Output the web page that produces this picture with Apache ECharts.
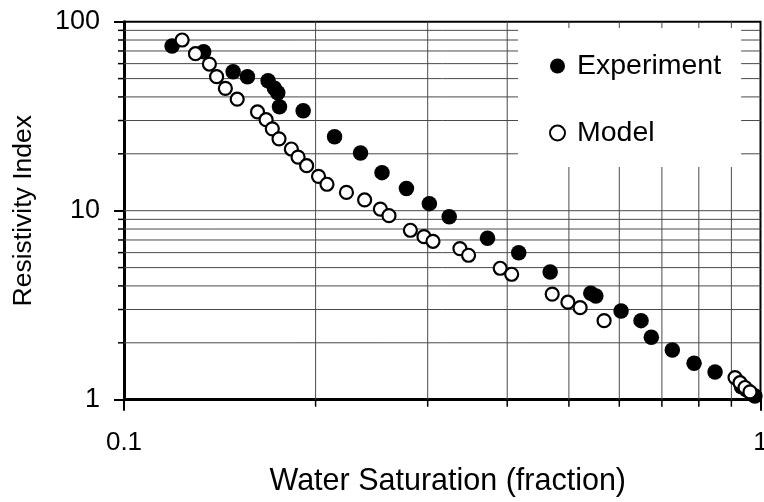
<!DOCTYPE html>
<html>
<head>
<meta charset="utf-8">
<script src="https://cdn.jsdelivr.net/npm/echarts@6/dist/echarts.min.js"></script>
<style>
  html, body { margin: 0; padding: 0; background: #fff; }
  #chart { width: 764px; height: 502px; }
</style>
</head>
<body>
<div id="chart"></div>
<script>
// Water saturation (fraction) vs resistivity index
const expSw = [0.1190, 0.1334, 0.1484, 0.1563, 0.1684, 0.1723, 0.1744, 0.1755, 0.1912, 0.2142,
               0.2353, 0.2543, 0.2778, 0.3018, 0.3243, 0.3725, 0.4170, 0.4673, 0.5412, 0.5512,
               0.6039, 0.6491, 0.6737, 0.7269, 0.7864, 0.8484, 0.9337, 0.9506, 0.9660, 0.9800];
const expRI = [74.3, 69.4, 54.4, 51.2, 48.7, 44.4, 42.1, 35.5, 33.8, 24.6,
               20.2, 15.9, 13.1, 10.9, 9.30, 7.14, 5.99, 4.74, 3.66, 3.54,
               2.95, 2.62, 2.14, 1.83, 1.56, 1.40, 1.17, 1.13, 1.08, 1.046];

const modSw = [0.1234, 0.1295, 0.1362, 0.1398, 0.1443, 0.1506, 0.1621, 0.1672, 0.1710, 0.1752,
               0.1832, 0.1877, 0.1936, 0.2021, 0.2084, 0.2236, 0.2388, 0.2528, 0.2608, 0.2818,
               0.2960, 0.3058, 0.3371, 0.3478, 0.3900, 0.4065, 0.4707, 0.4982, 0.5207, 0.5679,
               0.9120, 0.9286, 0.9456, 0.9627];
const modRI = [80.0, 67.7, 59.7, 51.2, 44.4, 38.9, 33.3, 30.3, 27.1, 24.0,
               21.2, 19.2, 17.3, 15.2, 13.8, 12.5, 11.4, 10.2, 9.41, 7.88,
               7.29, 6.89, 6.30, 5.81, 4.96, 4.61, 3.62, 3.28, 3.07, 2.62,
               1.31, 1.23, 1.16, 1.10];

// Axis ticks and grid positions
const xTickLabels = ['0.1', '1'];
const yTickLabels = ['1', '10', '100'];
const xGridValues = [0.2, 0.3, 0.4, 0.5, 0.6, 0.7, 0.8, 0.9];
const yGridValues = [2, 3, 4, 5, 6, 7, 8, 9, 10, 20, 30, 40, 50, 60, 70, 80, 90];

const X_MIN = 0.1, X_MAX = 1, Y_MIN = 1, Y_MAX = 100;
const FONT = '"Liberation Sans", Arial, sans-serif';

const zip = (a, b) => a.map((v, i) => [v, b[i]]);

const chart = echarts.init(document.getElementById('chart'), null, { renderer: 'canvas' });

// Gridlines plus small outward ticks, drawn through the axis scales
function gridRenderer(isHorizontal) {
  return function (params, api) {
    const v = isHorizontal ? api.value(1) : api.value(0);
    let a, b, t0, t1;
    if (isHorizontal) {
      a = api.coord([X_MIN, v]);
      b = api.coord([X_MAX, v]);
      t0 = [a[0] - 6, a[1]];
      t1 = a;
    } else {
      a = api.coord([v, Y_MIN]);
      b = api.coord([v, Y_MAX]);
      t0 = a;
      t1 = [a[0], a[1] + 7];
    }
    return {
      type: 'group',
      children: [
        { type: 'line', shape: { x1: a[0], y1: a[1], x2: b[0], y2: b[1] },
          style: { stroke: '#4a4a4a', lineWidth: 1 } },
        { type: 'line', shape: { x1: t0[0], y1: t0[1], x2: t1[0], y2: t1[1] },
          style: { stroke: '#000', lineWidth: 1.5 } }
      ]
    };
  };
}

chart.setOption({
  animation: false,
  backgroundColor: '#fff',
  textStyle: { fontFamily: FONT },
  grid: {
    left: 124, right: 3.5, top: 21.7, bottom: 102.3,
    outerBoundsMode: 'none', containLabel: false,
    show: true, borderColor: '#000', borderWidth: 2, backgroundColor: 'transparent'
  },
  legend: {
    data: ['Experiment', 'Model'],
    orient: 'vertical',
    left: 518, top: 28,
    padding: [23, 20, 19, 31],
    itemGap: 37,
    itemWidth: 15, itemHeight: 15,
    backgroundColor: '#fff',
    z: 10,
    textStyle: { fontSize: 28.5, color: '#000', fontFamily: FONT, lineHeight: 30, padding: [0, 0, 0, 7] }
  },
  xAxis: {
    type: 'log', logBase: 10, min: X_MIN, max: X_MAX,
    name: 'Water Saturation (fraction)',
    nameLocation: 'middle', nameGap: 66,
    nameTextStyle: { fontSize: 30.5, color: '#000', fontFamily: FONT, padding: [0, 0, 0, 11] },
    axisLine: { show: true, lineStyle: { color: '#000', width: 3 } },
    axisTick: { show: true, inside: false, length: 11, lineStyle: { color: '#000', width: 2 } },
    axisLabel: {
      fontSize: 26, color: '#000', margin: 30, fontFamily: FONT,
      formatter: v => xTickLabels[Math.round(Math.log10(v) - Math.log10(X_MIN))]
    },
    splitLine: { show: false }
  },
  yAxis: {
    type: 'log', logBase: 10, min: Y_MIN, max: Y_MAX,
    name: 'Resistivity Index',
    nameLocation: 'middle', nameGap: 87, nameRotate: 90,
    nameTextStyle: { fontSize: 26.5, color: '#000', fontFamily: FONT },
    axisLine: { show: true, lineStyle: { color: '#000', width: 3 } },
    axisTick: { show: true, inside: false, length: 10, lineStyle: { color: '#000', width: 2 } },
    axisLabel: {
      fontSize: 27, color: '#000', margin: 24, fontFamily: FONT,
      formatter: v => yTickLabels[Math.round(Math.log10(v) - Math.log10(Y_MIN))]
    },
    splitLine: { show: false }
  },
  series: [
    {
      name: 'hgrid', type: 'custom', silent: true, clip: false, z: 1,
      renderItem: gridRenderer(true),
      data: yGridValues.map(v => [X_MIN, v])
    },
    {
      name: 'vgrid', type: 'custom', silent: true, clip: false, z: 1,
      renderItem: gridRenderer(false),
      data: xGridValues.map(v => [v, Y_MIN])
    },
    {
      name: 'Experiment', type: 'scatter', z: 3,
      symbol: 'circle', symbolSize: 15.5,
      itemStyle: { color: '#000', opacity: 1 },
      data: zip(expSw, expRI)
    },
    {
      name: 'Model', type: 'scatter', z: 4,
      symbol: 'circle', symbolSize: 13,
      itemStyle: { color: '#fff', borderColor: '#000', borderWidth: 2.2, opacity: 1 },
      data: zip(modSw, modRI)
    }
  ]
});
</script>
</body>
</html>
